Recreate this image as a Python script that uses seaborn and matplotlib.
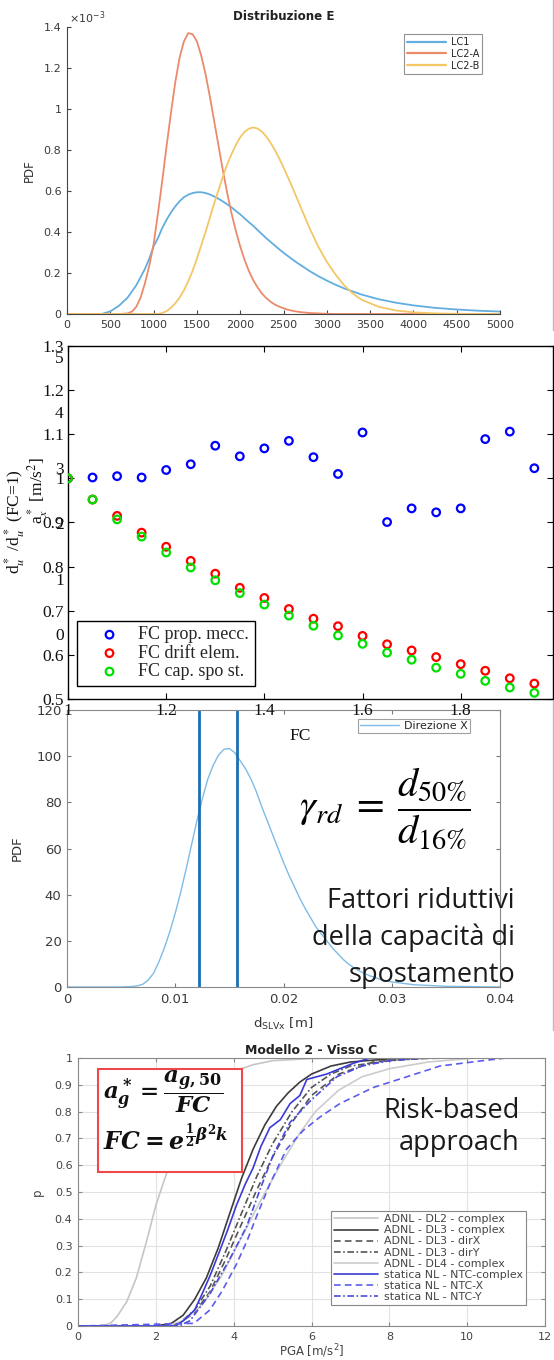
import numpy as np
import pandas as pd
import matplotlib
matplotlib.use("Agg")
import matplotlib.pyplot as plt
import seaborn as sns
from matplotlib.patches import Rectangle
from matplotlib.lines import Line2D

sns.set_style("ticks")
plt.rcParams['font.family'] = ['DejaVu Sans']
plt.rcParams['mathtext.fontset'] = 'custom'
plt.rcParams['mathtext.rm'] = 'DejaVu Serif:bold'
plt.rcParams['mathtext.it'] = 'DejaVu Serif:italic:bold'
plt.rcParams['mathtext.bf'] = 'DejaVu Serif:bold'

# ---------------- Panel 1 data : Distribuzione E (PDF, units of 1e-3) ----------------
e_values = [0, 250, 400, 500, 600,
            700, 750, 800, 850, 900, 950, 1000, 1050, 1100, 1150, 1200, 1250, 1300, 1350,
            1400, 1450, 1500, 1550, 1600, 1650, 1700, 1750, 1800, 1850, 1900, 1950, 2000,
            2050, 2100, 2150, 2200, 2250, 2300, 2350, 2400, 2450, 2500, 2550, 2600, 2650, 2700,
            2800, 2900, 3000, 3100, 3200, 3300, 3400, 3600, 3800, 4000, 4250, 4500, 4750, 5000]
pdf_lc1 = [0, 0, 0.0, 0.013, 0.04,
           0.08, 0.11, 0.14, 0.18, 0.22, 0.27, 0.33, 0.37, 0.42, 0.46, 0.495, 0.525, 0.55, 0.57,
           0.582, 0.59, 0.594, 0.594, 0.59, 0.583, 0.573, 0.562, 0.549, 0.535, 0.52, 0.503, 0.486,
           0.467, 0.448, 0.43, 0.41, 0.39, 0.37, 0.352, 0.334, 0.316, 0.299, 0.283, 0.267, 0.252, 0.238,
           0.21, 0.185, 0.163, 0.143, 0.125, 0.11, 0.095, 0.072, 0.055, 0.042, 0.03, 0.022, 0.016, 0.012]
pdf_lc2a = [0, 0, 0, 0, 0,
            0.003, 0.012, 0.035, 0.08, 0.15, 0.235, 0.34, 0.49, 0.65, 0.82, 0.98, 1.13, 1.25, 1.33,
            1.37, 1.365, 1.33, 1.26, 1.17, 1.06, 0.94, 0.82, 0.70, 0.59, 0.49, 0.405, 0.33,
            0.265, 0.21, 0.165, 0.13, 0.10, 0.078, 0.06, 0.046, 0.036, 0.028, 0.021, 0.016, 0.012, 0.009,
            0.005, 0.003, 0.001, 0, 0, 0, 0, 0, 0, 0, 0, 0, 0, 0]
pdf_lc2b = [0, 0, 0, 0, 0,
            0, 0, 0, 0, 0, 0, 0, 0, 0.005, 0.014, 0.03, 0.052, 0.08, 0.115,
            0.16, 0.21, 0.27, 0.335, 0.40, 0.47, 0.54, 0.605, 0.67, 0.73, 0.78, 0.825, 0.862,
            0.888, 0.904, 0.91, 0.905, 0.89, 0.866, 0.836, 0.80, 0.76, 0.715, 0.668, 0.62, 0.57, 0.52,
            0.42, 0.33, 0.255, 0.193, 0.14, 0.10, 0.07, 0.035, 0.017, 0.008, 0.003, 0.001, 0, 0]
series1_names = ["LC1", "LC2-A", "LC2-B"]
ytick1 = [0, 0.2, 0.4, 0.6, 0.8, 1.0, 1.2, 1.4]
ytick1_labels = ["0", "0.2", "0.4", "0.6", "0.8", "1", "1.2", "1.4"]

# ---------------- Panel 2 data : d*u / d*u(FC=1) ----------------
fc_values = [1.00, 1.05, 1.10, 1.15, 1.20, 1.25, 1.30, 1.35, 1.40, 1.45,
             1.50, 1.55, 1.60, 1.65, 1.70, 1.75, 1.80, 1.85, 1.90, 1.95]
fc_prop_mecc = [1.000, 1.002, 1.005, 1.002, 1.019, 1.032, 1.074, 1.050, 1.068, 1.085,
                1.048, 1.010, 1.104, 0.901, 0.932, 0.923, 0.932, 1.089, 1.106, 1.023]
fc_drift_elem = [1.000, 0.952, 0.915, 0.877, 0.845, 0.813, 0.784, 0.752, 0.729, 0.704,
                 0.682, 0.665, 0.643, 0.624, 0.610, 0.595, 0.579, 0.564, 0.547, 0.535]
fc_cap_spost = [1.000, 0.952, 0.907, 0.868, 0.832, 0.798, 0.769, 0.740, 0.714, 0.689,
                0.666, 0.644, 0.625, 0.605, 0.589, 0.571, 0.557, 0.541, 0.526, 0.514]
series2_names = ["FC prop. mecc.", "FC drift elem.", "FC cap. spo st."]
hidden_ticks = [0, 1, 2, 3, 4, 5]

# ---------------- Panel 3 data : PDF d_SLVx ----------------
d_slv = [0, 0.005, 0.0060, 0.0065, 0.0070, 0.0075, 0.0080, 0.0085, 0.0090, 0.0095, 0.0100,
         0.0105, 0.0110, 0.0115, 0.0120, 0.0125, 0.0130, 0.0135, 0.0140, 0.0145, 0.0150,
         0.0155, 0.0160, 0.0165, 0.0170, 0.0175, 0.0180, 0.0185, 0.0190, 0.0195, 0.0200,
         0.0205, 0.0210, 0.0215, 0.0220, 0.0225, 0.0230, 0.0235, 0.0240, 0.0245, 0.0250,
         0.0255, 0.0260, 0.0265, 0.0270, 0.0275, 0.0280, 0.0290, 0.0300, 0.0320, 0.0350, 0.0400]
pdf_dirx = [0, 0, 0.2, 0.5, 1.2, 3, 6, 11, 17, 24, 32,
            41, 51, 61.5, 72, 81.5, 90, 96, 100.5, 103, 103.3,
            101.5, 98, 94.5, 90, 84.5, 78, 72, 66, 60, 54,
            48.5, 43.5, 38.5, 34, 30, 26, 23, 20, 17, 14.5,
            12, 10, 8.3, 7, 5.8, 4.8, 3.2, 2.2, 1.0, 0.3, 0.0]
d_percentiles = [0.0122, 0.0157]

# ---------------- Panel 4 data : Modello 2 - Visso C (CDF) ----------------
pga_dl2 = [0.0, 0.5, 0.7, 0.85, 1.0, 1.25, 1.5, 1.75, 2.0, 2.3, 2.6, 3.0, 3.5, 4.0, 4.5, 5.0, 6.0, 7.0, 12.0]
p_dl2 = [0, 0, 0.003, 0.012, 0.035, 0.09, 0.18, 0.31, 0.45, 0.58, 0.70, 0.81, 0.90, 0.95, 0.975, 0.99, 0.998, 1.0, 1.0]
pga_dl3 = [0.0, 2.0, 2.4, 2.7, 3.0, 3.3, 3.6, 3.9, 4.2, 4.5, 4.8, 5.1, 5.4, 5.7, 6.0, 6.5, 7.0, 8.0, 9.0, 12.0]
p_dl3 = [0, 0, 0.01, 0.04, 0.10, 0.18, 0.29, 0.42, 0.55, 0.66, 0.75, 0.82, 0.87, 0.91, 0.94, 0.97, 0.985, 0.997, 1.0, 1.0]
pga_dl3x = [0.0, 2.2, 2.6, 3.0, 3.4, 3.8, 4.2, 4.6, 5.0, 5.5, 6.0, 6.7, 7.6, 8.5, 9.5, 12.0]
p_dl3x = [0, 0, 0.01, 0.05, 0.13, 0.25, 0.38, 0.51, 0.63, 0.76, 0.86, 0.94, 0.986, 0.997, 1.0, 1.0]
pga_dl3y = [0.0, 2.2, 2.6, 3.0, 3.4, 3.8, 4.2, 4.6, 5.0, 5.5, 6.0, 6.5, 7.0, 8.0, 9.0, 12.0]
p_dl3y = [0, 0, 0.01, 0.06, 0.15, 0.28, 0.42, 0.56, 0.68, 0.80, 0.89, 0.94, 0.97, 0.99, 1.0, 1.0]
pga_dl4 = [0.0, 2.3, 2.7, 3.2, 3.7, 4.2, 4.7, 5.2, 5.7, 6.1, 6.7, 7.3, 8.0, 9.0, 10.2, 12.0]
p_dl4 = [0, 0, 0.02, 0.08, 0.19, 0.33, 0.47, 0.60, 0.72, 0.80, 0.88, 0.93, 0.96, 0.985, 1.0, 1.0]
pga_ntc = [0.0, 2.5, 2.71, 3.0, 3.22, 3.4, 3.64, 3.85, 4.07, 4.3, 4.5, 4.7, 4.93, 5.2, 5.45, 5.7, 5.88, 6.39, 7.07, 7.5, 12.0]
p_ntc = [0, 0, 0.02, 0.06, 0.13, 0.19, 0.28, 0.36, 0.45, 0.53, 0.59, 0.67, 0.74, 0.77, 0.83, 0.86, 0.92, 0.94, 0.98, 1.0, 1.0]
pga_ntcx = [0.0, 2.98, 3.39, 3.7, 4.07, 4.35, 4.59, 4.93, 5.36, 5.79, 6.22, 6.73, 7.59, 8.45, 9.3, 10.4, 11.0, 12.0]
p_ntcx = [0, 0.01, 0.06, 0.13, 0.23, 0.32, 0.41, 0.53, 0.66, 0.73, 0.78, 0.83, 0.89, 0.93, 0.97, 0.99, 1.0, 1.0]
pga_ntcy = [0.0, 2.6, 2.88, 3.39, 3.9, 4.33, 4.68, 5.02, 5.45, 5.97, 6.65, 7.3, 8.0, 9.0, 12.0]
p_ntcy = [0, 0, 0.02, 0.12, 0.25, 0.37, 0.51, 0.64, 0.76, 0.84, 0.93, 0.97, 0.99, 1.0, 1.0]
series4_names = ["ADNL - DL2 - complex", "ADNL - DL3 - complex", "ADNL - DL3 - dirX",
                 "ADNL - DL3 - dirY", "ADNL - DL4 - complex", "statica NL - NTC-complex",
                 "statica NL - NTC-X", "statica NL - NTC-Y"]

# ---------------- Figure layout ----------------
W, H = 554, 1360
fig = plt.figure(figsize=(W / 100, H / 100), dpi=100)
fig.patch.set_facecolor('white')


def rect(l, t, r, b):
    return [l / W, 1 - b / H, (r - l) / W, (b - t) / H]


def fx(x):
    return x / W


def fy(y):
    return 1 - y / H


SANS = ['DejaVu Sans']
SERIF = ['Liberation Serif', 'DejaVu Serif']
CAL = ['Open Sans', 'DejaVu Sans']
TICKC = '#3a3a3a'

ax1 = fig.add_axes(rect(67, 27, 500, 314))
ax3 = fig.add_axes(rect(67, 710, 500, 987))
ax2 = fig.add_axes(rect(68, 346, 553, 699))
ax2b = fig.add_axes(rect(68, 346, 553, 699), frameon=False)
ax4 = fig.add_axes(rect(78, 1058, 545, 1326))

# ---------------- Panel 1 ----------------
df1 = pd.DataFrame({"E": e_values * 3,
                    "PDF": pdf_lc1 + pdf_lc2a + pdf_lc2b,
                    "serie": sum([[n] * len(e_values) for n in series1_names], [])})
pal1 = {"LC1": "#62aee0", "LC2-A": "#ec8a6c", "LC2-B": "#f4c766"}
sns.lineplot(data=df1, x="E", y="PDF", hue="serie", palette=pal1, ax=ax1,
             linewidth=1.3, errorbar=None, sort=False)
ax1.set_xlim(0, 5000)
ax1.set_ylim(0, 1.4)
ax1.set_xticks(np.arange(0, 5001, 500))
ax1.set_yticks(ytick1)
ax1.set_yticklabels(ytick1_labels)
ax1.text(0.005, 1.005, r"$\times\mathregular{10^{-3}}$", transform=ax1.transAxes, ha='left', va='bottom',
         fontsize=8, color=TICKC, math_fontfamily='dejavusans')
ax1.spines['top'].set_visible(False)
ax1.spines['right'].set_visible(False)
for s in ['left', 'bottom']:
    ax1.spines[s].set_color('#444444')
    ax1.spines[s].set_linewidth(0.8)
ax1.tick_params(direction='in', length=3, labelsize=8, labelcolor=TICKC, color='#444444', pad=4)
ax1.set_xlabel("")
ax1.set_ylabel("PDF", fontsize=8.5, color='#333333')
ax1.yaxis.set_label_coords(-0.072, 0.5)
ax1.set_title("Distribuzione E", fontsize=8.6, fontweight='bold', color='#222222', pad=5)
leg1 = ax1.legend(loc='upper left', bbox_to_anchor=(fx(404), fy(34)), bbox_transform=fig.transFigure,
                  fontsize=7, frameon=True, fancybox=False, edgecolor='#777777', handlelength=4.0,
                  borderaxespad=0, labelspacing=0.2, borderpad=0.3, handletextpad=0.5)
leg1.get_frame().set_linewidth(0.8)
for lh in leg1.get_lines():
    lh.set_linewidth(1.6)

# ---------------- Panel 3 ----------------
df3 = pd.DataFrame({"d": d_slv, "pdf": pdf_dirx})
sns.lineplot(data=df3, x="d", y="pdf", ax=ax3, color="#7fbbe6", linewidth=1.0,
             errorbar=None, label="Direzione X")
for dp in d_percentiles:
    ax3.axvline(dp, color="#1a6fb5", linewidth=2.0)
ax3.set_xlim(0, 0.04)
ax3.set_ylim(0, 120)
ax3.set_xticks([0, 0.01, 0.02, 0.03, 0.04])
ax3.set_xticklabels(["0", "0.01", "0.02", "0.03", "0.04"])
ax3.set_yticks(np.arange(0, 121, 20))
for s in ax3.spines.values():
    s.set_color('#8a8a8a')
    s.set_linewidth(0.8)
ax3.tick_params(direction='in', length=3, labelsize=9.5, labelcolor=TICKC, color='#777777',
                right=True, top=True, pad=4)
ax3.set_xlabel(r"d$_{\mathrm{SLVx}}$ [m]", fontsize=9.5, color='#333333', math_fontfamily='dejavusans')
ax3.xaxis.set_label_coords(0.5, -0.105)
ax3.set_ylabel("PDF", fontsize=9.5, color='#333333')
ax3.yaxis.set_label_coords(-0.099, 0.5)
leg3 = ax3.legend(loc='upper left', bbox_to_anchor=(fx(358), fy(719)), bbox_transform=fig.transFigure,
                  fontsize=8, frameon=True, fancybox=False, edgecolor='#888888', handlelength=3.5,
                  borderaxespad=0, borderpad=0.2, handletextpad=0.4)
leg3.get_frame().set_linewidth(0.8)

# ---------------- Panel 2 ----------------
df2 = pd.DataFrame({"FC": fc_values * 3,
                    "ratio": fc_prop_mecc + fc_drift_elem + fc_cap_spost,
                    "serie": sum([[n] * len(fc_values) for n in series2_names], [])})
cols2 = {"FC prop. mecc.": "#0000ff", "FC drift elem.": "#ff0000", "FC cap. spo st.": "#00e000"}
for name in series2_names:
    sub = df2[df2["serie"] == name]
    sns.scatterplot(data=sub, x="FC", y="ratio", ax=ax2, marker='o', s=30,
                    color=cols2[name], facecolor='none', edgecolor=cols2[name],
                    linewidth=1.6, label=name, zorder=3)
ax2.set_xlim(1, 1.988)
ax2.set_ylim(0.5, 1.3)
ax2.set_xticks([1, 1.2, 1.4, 1.6, 1.8])
ax2.set_xticklabels(["1", "1.2", "1.4", "1.6", "1.8"])
ax2.set_yticks([0.5, 0.6, 0.7, 0.8, 0.9, 1.0, 1.1, 1.2, 1.3])
ax2.set_yticklabels(["0.5", "0.6", "0.7", "0.8", "0.9", "1", "1.1", "1.2", "1.3"])
for s in ax2.spines.values():
    s.set_color('black')
    s.set_linewidth(1.0)
ax2.tick_params(direction='in', length=4, labelsize=12.5, labelcolor='#111111', color='black',
                right=True, top=True, pad=3)
for lab in ax2.get_xticklabels() + ax2.get_yticklabels():
    lab.set_family(SERIF)
ax2.set_xlabel("FC", fontsize=12.5, family=SERIF, color='#111111')
ax2.xaxis.set_label_coords(0.478, -0.082)
ax2.set_ylabel("")
leg2 = ax2.legend(loc='upper left', bbox_to_anchor=(fx(77), fy(621)), bbox_transform=fig.transFigure,
                  prop={'family': SERIF, 'size': 13}, frameon=True, fancybox=False,
                  edgecolor='black', borderaxespad=0, labelspacing=0.08, handletextpad=0.1,
                  borderpad=0.3, handlelength=3.0, framealpha=1)
leg2.get_frame().set_linewidth(1.0)

# overlapping tick labels of a second (hidden) axis: a*_x
ax2b.set_xlim(0, 1)
ax2b.set_ylim(-1.166, 5.19)
ax2b.set_xticks([])
ax2b.set_yticks(hidden_ticks)
ax2b.set_yticklabels([str(t) for t in hidden_ticks])
ax2b.tick_params(axis='y', length=0, labelsize=12.5, labelcolor='#111111', pad=3)
for lab in ax2b.get_yticklabels():
    lab.set_family(SERIF)
ax2b.patch.set_visible(False)

fig.text(fx(15), fy(522), r"d$^*_u$ /d$^*_u$ (FC=1)", rotation=90, ha='center', va='center',
         fontsize=12.5, family=SERIF, color='#111111', math_fontfamily='stix')
fig.text(fx(38), fy(490), r"a$^*_x$ [m/s$^2$]", rotation=90, ha='center', va='center',
         fontsize=12.5, family=SERIF, color='#111111', math_fontfamily='stix')

# ---------------- Panel 4 ----------------
lines4 = [
    (pga_dl2, p_dl2, "#c6c6c6", "-"),
    (pga_dl3, p_dl3, "#3c3c3c", "-"),
    (pga_dl3x, p_dl3x, "#555555", (0, (4, 2.5))),
    (pga_dl3y, p_dl3y, "#555555", (0, (4, 1.5, 1, 1.5))),
    (pga_dl4, p_dl4, "#cccccc", "-"),
    (pga_ntc, p_ntc, "#3a3ad8", "-"),
    (pga_ntcx, p_ntcx, "#5c5cee", (0, (4, 2.5))),
    (pga_ntcy, p_ntcy, "#4a4ae0", (0, (4, 1.5, 1, 1.5))),
]
for (xs, ys, c, ls), name in zip(lines4, series4_names):
    sns.lineplot(x=xs, y=ys, ax=ax4, color=c, linestyle=ls, linewidth=1.2,
                 errorbar=None, label=name, sort=False)
ax4.set_xlim(0, 12)
ax4.set_ylim(0, 1)
ax4.set_xticks(np.arange(0, 13, 2))
ax4.set_yticks(np.round(np.arange(0, 1.01, 0.1), 1))
ax4.set_yticklabels(["0", "0.1", "0.2", "0.3", "0.4", "0.5", "0.6", "0.7", "0.8", "0.9", "1"])
ax4.grid(True, color='#e2e2e2', linewidth=0.8)
ax4.set_axisbelow(True)
for s in ax4.spines.values():
    s.set_color('#8a8a8a')
    s.set_linewidth(0.8)
ax4.tick_params(direction='in', length=3, labelsize=8, labelcolor='#444444', color='#888888',
                right=True, top=True, pad=4)
ax4.set_title("Modello 2 - Visso C", fontsize=9, fontweight='bold', color='#222222', pad=3)
ax4.set_xlabel(r"PGA [m/s$^2$]", fontsize=8.5, color='#444444', math_fontfamily='dejavusans')
ax4.xaxis.set_label_coords(0.5, -0.063)
ax4.set_ylabel("p", fontsize=8.5, color='#444444')
ax4.yaxis.set_label_coords(-0.073, 0.5)
leg4 = ax4.legend(loc='upper left', bbox_to_anchor=(fx(331), fy(1211)), bbox_transform=fig.transFigure,
                  fontsize=7.9, frameon=True, fancybox=False, edgecolor='#888888', handlelength=4.0,
                  borderaxespad=0, labelspacing=0.1, borderpad=0.3, handletextpad=0.5,
                  framealpha=1)
leg4.get_frame().set_linewidth(0.8)
for t in leg4.get_texts():
    t.set_color('#444444')

# ---------------- Annotations ----------------
fig.text(fx(299), fy(808), r"$\gamma_{rd}\;=\;\dfrac{d_{50\%}}{d_{16\%}}$", ha='left', va='center',
         fontsize=29, math_fontfamily='stix', color='black')
fig.text(fx(515), fy(938), "Fattori riduttivi\ndella capacità di\nspostamento", ha='right',
         va='center', multialignment='right', fontsize=19.5, family=CAL, color='#1a1a1a',
         linespacing=1.43)

fig.add_artist(Rectangle((fx(98), fy(1172)), fx(242) - fx(98), fy(1069) - fy(1172),
                         transform=fig.transFigure, facecolor='white', edgecolor='#f04848',
                         linewidth=1.5, zorder=5))
fig.text(fx(103), fy(1092), r"$a^*_g=\dfrac{a_{g,50}}{FC}$", ha='left', va='center', fontsize=16.5,
         math_fontfamily='custom', color='#111111', zorder=6)
fig.text(fx(103), fy(1139), r"$FC=e^{\frac{1}{2}\beta^2 k}$", ha='left', va='center', fontsize=17,
         math_fontfamily='custom', color='#111111', zorder=6)
fig.text(fx(520), fy(1127), "Risk-based\napproach", ha='right', va='center', multialignment='right',
         fontsize=19.5, family=CAL, color='#1a1a1a', linespacing=1.2)

# screenshot borders
fig.add_artist(Line2D([fx(553), fx(553)], [fy(0), fy(330)], transform=fig.transFigure,
                      color='#bbbbbb', linewidth=1.0))
fig.add_artist(Line2D([fx(553), fx(553)], [fy(700), fy(1030)], transform=fig.transFigure,
                      color='#bbbbbb', linewidth=1.0))

fig.savefig("out.png", dpi=100)
